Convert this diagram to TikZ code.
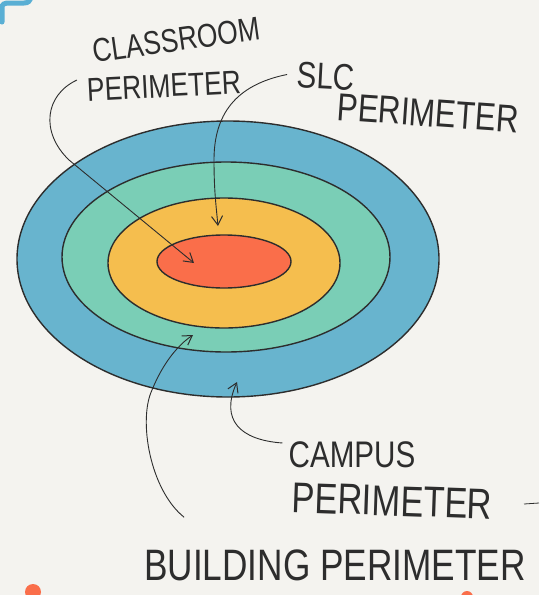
\documentclass[tikz,border=0pt]{standalone}
\usepackage{fontspec}
\setmainfont{Liberation Sans}[FakeStretch=0.8]
\usetikzlibrary{arrows.meta}
\definecolor{bg}{RGB}{244,243,239}
\definecolor{ringblue}{RGB}{104,180,206}
\definecolor{ringteal}{RGB}{122,206,182}
\definecolor{ringyellow}{RGB}{245,190,78}
\definecolor{ringred}{RGB}{250,110,74}
\definecolor{ink}{RGB}{45,45,45}
\definecolor{markblue}{RGB}{90,175,212}
\tikzset{
  ring/.style={draw=ink, line width=1.4pt},
  pointer/.style={draw=ink, line width=0.9pt, -{Straight Barb[length=9pt,width=11pt,line width=1pt]}},
  hand/.style={text=ink, inner sep=0pt, font=\fontsize{#1}{#1}\selectfont},
}
\begin{document}
\begin{tikzpicture}[x=1pt,y=-1pt]
\fill[bg] (0,0) rectangle (539,595);
\useasboundingbox (0,0) rectangle (539,595);
% stray marks at the edges
\draw[markblue, line width=5pt, line cap=round] (2,22) -- (2,8) .. controls (2,4) and (4,3) .. (10,3) -- (24,3) .. controls (28,3) and (30,1) .. (31,-2);
\fill[ringred] (33,592) circle [radius=8];
\fill[ringred] (467,597) circle [radius=6];
\draw[ink, line width=0.8pt] (524,504) -- (539,503);
% rings
\draw[ring, fill=ringblue] (228,259) ellipse [x radius=211, y radius=138];
\draw[ring, fill=ringteal] (226,257) ellipse [x radius=164, y radius=95];
\draw[ring, fill=ringyellow] (224,263) ellipse [x radius=116, y radius=65];
\draw[ring, fill=ringred] (224,261.5) ellipse [x radius=67, y radius=26.5];
% labels
\node[hand=33, rotate=8] (cls1) at (176,40) {CLASSROOM};
\node[hand=33, rotate=3] (cls2) at (164,86) {PERIMETER};
\node[hand=37, rotate=-3] (slc1) at (326,76) {SLC};
\node[hand=39, rotate=-4] (slc2) at (428,113) {PERIMETER};
\node[hand=37] (camp1) at (352,455) {CAMPUS};
\node[hand=43, rotate=-2] (camp2) at (392,501) {PERIMETER};
\node[hand=44] (bld) at (335,565) {BUILDING PERIMETER};
% arrow targets
\coordinate (tclass) at (194,263);
\coordinate (tslc) at (218,226);
\coordinate (tbld) at (193,335);
\coordinate (tcamp) at (237,382);
% pointers
\draw[pointer] (cls2.west) ++(-10,-10) .. controls (45,95) and (40,132) .. (69,160) -- (tclass);
\draw[pointer] (slc1.west) ++(-10,0) .. controls (235,85) and (214,115) .. (214,160) .. controls (214,190) and (216,205) .. (tslc);
\draw[pointer] (bld.north west) ++(40,-32) .. controls (150,490) and (138,420) .. (152,390) .. controls (163,363) and (178,345) .. (tbld);
\draw[pointer] (camp1.west) ++(-6,-12) .. controls (240,440) and (220,420) .. (tcamp);
\end{tikzpicture}
\end{document}
